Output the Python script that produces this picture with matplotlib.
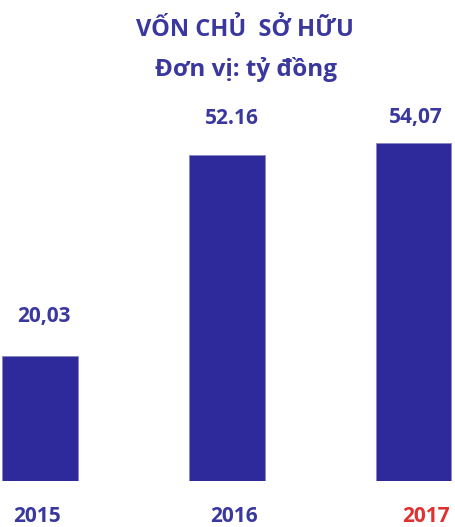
import matplotlib
matplotlib.use("Agg")
import matplotlib.pyplot as plt

years = ["2015", "2016", "2017"]
values = [20.03, 52.16, 54.07]
value_labels = ["20,03", "52.16", "54,07"]
title = "VỐN CHỦ  SỞ HỮU"
subtitle = "Đơn vị: tỷ đồng"

BAR = "#2e2a9c"
TEXT = "#3a389f"
RED = "#e03131"
W, H = 455, 527
PX_PER_UNIT = 6.25
# label nudges in pixels (the source labels are not exactly centred)
value_dx = [4, 5.5, 2.5]
value_dy = [39, 37, 26]
year_dx = [-2.5, 7, 12.5]

plt.rcParams["font.family"] = ["Open Sans", "DejaVu Sans"]
fig = plt.figure(figsize=(W / 100, H / 100), dpi=100)
# axes: x=0 at 40 px, 186.75 px per category; y=0 at 481 px from top
ax = fig.add_axes([0, 1 - 481 / H, 1, 481 / H])
ax.set_xlim(-40 / 186.75, (W - 40) / 186.75)
ax.set_ylim(0, 481 / PX_PER_UNIT)
ax.axis("off")

xs = range(len(years))
ax.bar(xs, values, width=0.405, color=BAR, edgecolor="#8a88c0", linewidth=0.6)

for x, v, lab, dx, dy in zip(xs, values, value_labels, value_dx, value_dy):
    ax.annotate(lab, (x, v), xytext=(dx * 0.72, dy * 0.72), textcoords="offset points",
                ha="center", va="center", fontsize=15, fontweight="bold", color=TEXT)

for x, y, dx in zip(xs, years, year_dx):
    ax.annotate(y, (x, 0), xytext=(dx * 0.72, -35 * 0.72), textcoords="offset points",
                ha="center", va="center", fontsize=15, fontweight="bold",
                color=RED if y == "2017" else TEXT, annotation_clip=False)

fig.text(245 / W, 1 - 30 / H, title, ha="center", va="center",
         fontsize=17, fontweight="bold", color=TEXT)
fig.text(246 / W, 1 - 70 / H, subtitle, ha="center", va="center",
         fontsize=17.5, fontweight="bold", color=TEXT)

fig.savefig("out.png", dpi=100)
